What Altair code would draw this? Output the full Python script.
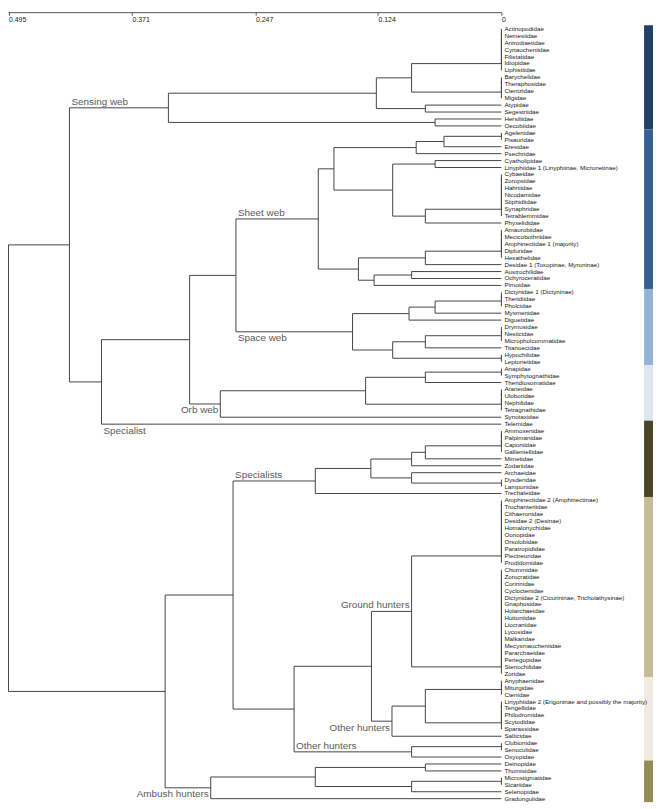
import altair as alt
import pandas as pd

# ---------------- data ----------------
leaves = [
    "Actinopodidae", "Nemesiidae", "Antrodiaetidae", "Cyrtaucheniidae", "Filistatidae", "Idiopidae", "Liphistiidae",
    "Barychelidae", "Theraphosidae", "Ctenizidae", "Migidae",
    "Atypidae", "Segestriidae", "Hersiliidae", "Oecobiidae",
    "Agelenidae", "Pisauridae", "Eresidae", "Psechridae", "Cyatholipidae",
    "Linyphiidae 1 (Linyphiinae, Micronetinae)",
    "Cybaeidae", "Zoropsidae", "Hahniidae", "Nicodamidae", "Stiphidiidae", "Synaphridae", "Tetrablemmidae",
    "Phyxelididae",
    "Amaurobiidae", "Mecicobothriidae", "Amphinectidae 1 (majority)", "Dipluridae", "Hexathelidae",
    "Desidae 1 (Toxopinae, Myroninae)",
    "Austrochilidae", "Ochyroceratidae", "Pimoidae",
    "Dictynidae 1 (Dictyninae)", "Theridiidae", "Pholcidae", "Mysmenidae", "Diguetidae",
    "Drymusidae", "Nesticidae", "Micropholcommatidae", "Titanoecidae", "Hypochilidae", "Leptonetidae",
    "Anapidae", "Symphytognathidae", "Theridiosomatidae", "Araneidae", "Uloboridae", "Nephilidae",
    "Tetragnathidae", "Synotaxidae",
    "Telemidae",
    "Ammoxenidae", "Palpimanidae", "Caponiidae", "Gallieniellidae", "Mimetidae", "Zodariidae", "Archaeidae",
    "Dysderidae", "Lamponidae", "Trechaleidae",
    "Amphinectidae 2 (Amphinectinae)", "Trochanteriidae", "Cithaeronidae", "Desidae 2 (Desinae)",
    "Homalonychidae", "Oonopidae", "Orsolobidae", "Paratropididae", "Plectreuridae", "Prodidomidae",
    "Chummidae", "Zorocratidae", "Corinnidae", "Cycloctenidae",
    "Dictynidae 2 (Cicurininae, Tricholathysinae)", "Gnaphosidae", "Holarchaeidae", "Huttoniidae",
    "Liocranidae", "Lycosidae", "Malkaridae", "Mecysmaucheniidae", "Pararchaeidae", "Periegopidae",
    "Stenochilidae", "Zoridae",
    "Anyphaenidae", "Miturgidae", "Ctenidae", "Linyphiidae 2 (Erigoninae and possibly the majority)",
    "Tengellidae", "Philodromidae", "Scytodidae", "Sparassidae", "Salticidae",
    "Clubionidae", "Senoculidae", "Oxyopidae",
    "Deinopidae", "Thomisidae", "Microstigmatidae", "Sicariidae", "Selenopidae", "Gradungulidae",
]

band_names = ["Sensing web", "Sheet web", "Space web", "Orb web", "Specialists",
              "Ground hunters", "Other hunters", "Ambush hunters"]
band_first = [1, 16, 39, 50, 58, 69, 95, 107]
band_last = [15, 38, 49, 57, 68, 94, 106, 112]
band_colors = ["#244062", "#366092", "#95B3D7", "#DCE6F1", "#494529", "#C4BD97", "#EEECE1", "#948A54"]

axis_ticks = [0.495, 0.371, 0.247, 0.124, 0]

label_texts = ["Sensing web", "Sheet web", "Space web", "Orb web", "Specialist", "Specialists",
               "Ground hunters", "Other hunters", "Other hunters", "Ambush hunters"]
label_nodes = ["sensing", "sheet", "space", "orb", 58, "specialists", "ground", "other1", "other2", "ambush"]
label_anchor = ["left", "left", "left", "right", "left", "left", "right", "right", "left", "right"]
label_side = ["above", "above", "below", "below", "below", "above", "above", "below", "above", "below"]


# ---------------- tree (merge heights) ----------------
def N(h, a, b, name=None):
    return {"h": h, "kids": [a, b], "name": name}


def Z(a, b):
    # leaves a..b tied at height 0, merged in sequence
    node = a
    for k in range(a + 1, b + 1):
        node = N(0.0, node, k)
    return node


sensing = N(0.3344,
            N(0.1256, N(0.0902, Z(1, 7), Z(8, 11)), N(0.0764, 12, 13)),
            N(0.0666, 14, 15), "sensing")
sheet = N(0.1839,
          N(0.1682,
            N(0.0856, N(0.0577, Z(16, 17), 18), 19),
            N(0.1092, N(0.0666, 20, 21), N(0.0764, Z(22, 28), 29))),
          N(0.1436,
            N(0.0764, Z(30, 34), 35),
            N(0.1279, N(0.0902, 36, 37), 38)), "sheet")
space = N(0.1495,
          N(0.0928, N(0.0666, Z(39, 41), 42), 43),
          N(0.1092, N(0.0764, Z(44, 46), 47), Z(48, 49)), "space")
orb = N(0.2823, N(0.1364, N(0.0764, Z(50, 51), 52), Z(53, 56)), 57, "orb")
webclade = N(0.3131, N(0.2666, sheet, space), orb)
specialist = N(0.4016, webclade, 58)
webbuilders = N(0.4338, sensing, specialist)

specialists = N(0.1869,
                N(0.1311,
                  N(0.0902, N(0.0764, Z(59, 62), 63), 64),
                  N(0.0902, 65, Z(66, 67))),
                68, "specialists")
ground = N(0.0902, Z(69, 78), Z(79, 94), "ground")
other1 = N(0.1099, N(0.0764, Z(95, 97), Z(98, 102)), 103, "other1")
other2 = N(0.0902, Z(104, 105), 106, "other2")
n_other = N(0.2082, N(0.1305, ground, other1), other2)
n_mid = N(0.2695, specialists, n_other)
ambush = N(0.2919, N(0.1869, N(0.0764, 107, 108), N(0.0902, Z(109, 110), 111)), 112, "ambush")
hunters = N(0.3377, n_mid, ambush)
root = N(0.495, webbuilders, hunters)

segs = []
pos = {}


def walk(node, parent_h):
    if isinstance(node, int):
        h, y = 0.0, float(node)
        pos[node] = (h, y, parent_h)
    else:
        res = [walk(k, node["h"]) for k in node["kids"]]
        h = node["h"]
        ys = [r[1] for r in res]
        y = sum(ys) / len(ys)
        segs.append(dict(x=h, x2=h, y=min(ys), y2=max(ys)))
        if node["name"]:
            pos[node["name"]] = (h, y, parent_h)
    if parent_h is not None and parent_h > h:
        segs.append(dict(x=h, x2=parent_h, y=y, y2=y))
    return h, y


walk(root, None)

seg_df = pd.DataFrame(segs)
leaf_df = pd.DataFrame({"x": [0.0] * len(leaves), "y": list(range(1, len(leaves) + 1)), "name": leaves})
band_df = pd.DataFrame({"name": band_names,
                        "y": [f - 0.5 for f in band_first],
                        "y2": [l + 0.5 for l in band_last]})

lab_rows = []
for t, n, a, s in zip(label_texts, label_nodes, label_anchor, label_side):
    h, y, ph = pos[n]
    lab_rows.append(dict(text=t, x=(ph if a == "left" else h), y=y, anchor=a, side=s))
lab_df = pd.DataFrame(lab_rows)

# ---------------- layout ----------------
W = 498
H = 798
STEP = 7.0
TOP = 17.3
XMAX = W / (497.5 / 0.495)
y_lo = 1 - TOP / STEP
y_hi = 1 + (H - TOP) / STEP

xs = alt.Scale(domain=[0, XMAX], reverse=True, nice=False, zero=False)
ys = alt.Scale(domain=[y_lo, y_hi], reverse=True, nice=False, zero=False)
xaxis = alt.Axis(orient="bottom", offset=-(H - 0.5), values=axis_ticks, format=".3~f",
                 labelAlign="left", labelFlush=False, labelOverlap=False, labelFontSize=7,
                 labelFont="Liberation Sans", labelColor="#222222", labelPadding=0,
                 tickSize=3, tickColor="#555555", domainColor="#555555", grid=False, title=None)

tree = alt.Chart(seg_df).mark_rule(color="#454545", strokeWidth=1).encode(
    x=alt.X("x:Q", scale=xs, axis=xaxis),
    x2="x2:Q",
    y=alt.Y("y:Q", scale=ys, axis=None),
    y2="y2:Q",
)

leaf_text = alt.Chart(leaf_df).mark_text(
    align="left", baseline="middle", dx=3, fontSize=6.3, font="Liberation Sans", color="#1a1a1a"
).encode(
    x=alt.X("x:Q", scale=xs, axis=xaxis),
    y=alt.Y("y:Q", scale=ys, axis=None),
    text="name:N",
)

bands = alt.Chart(band_df).mark_rect().encode(
    x=alt.value(642),
    x2=alt.value(651),
    y=alt.Y("y:Q", scale=ys, axis=None),
    y2="y2:Q",
    color=alt.Color("name:N", scale=alt.Scale(domain=band_names, range=band_colors), legend=None),
)

layers = [bands, tree, leaf_text]
for a in ["left", "right"]:
    for s in ["above", "below"]:
        sub = lab_df[(lab_df.anchor == a) & (lab_df.side == s)]
        if len(sub) == 0:
            continue
        layers.append(
            alt.Chart(sub).mark_text(
                align=a, baseline="middle", dx=(2 if a == "left" else -2), dy=(-6 if s == "above" else 6.5),
                fontSize=10, font="Liberation Sans", color="#5a5a5a"
            ).encode(
                x=alt.X("x:Q", scale=xs, axis=xaxis),
                y=alt.Y("y:Q", scale=ys, axis=None),
                text="text:N",
            )
        )

chart = alt.layer(*layers).properties(
    width=W, height=H,
    autosize=alt.AutoSizeParams(type="none"),
    padding={"left": 0, "top": 0, "right": 154, "bottom": 0},
).configure_view(strokeWidth=0)

chart.save("out.html", embed_options={"renderer": "svg", "actions": False})
